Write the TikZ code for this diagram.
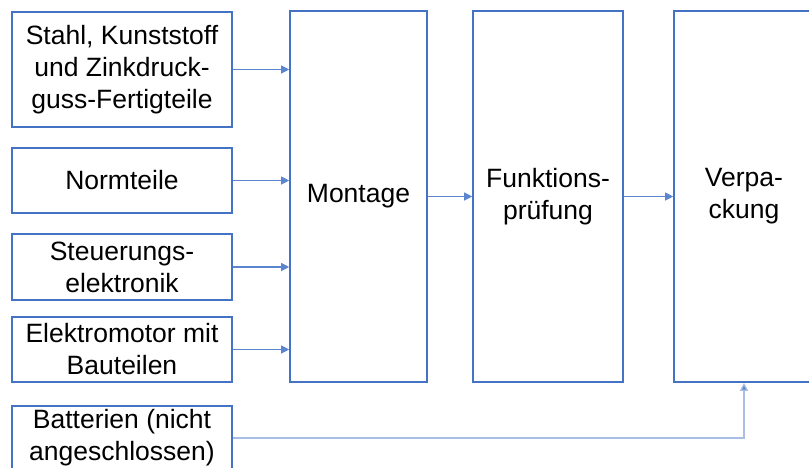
\documentclass[tikz,border=0pt]{standalone}
\usepackage{fontspec}
\setmainfont{Liberation Sans}
\usetikzlibrary{arrows.meta}
\definecolor{boxblue}{HTML}{4472C4}
\definecolor{lineblue}{HTML}{5B85CF}
\definecolor{lightline}{HTML}{A9BEE4}
\begin{document}
\begin{tikzpicture}[x=1pt,y=-1pt,
  box/.style={draw=boxblue, line width=1.6pt, fill=white, inner sep=0pt, align=center,
    font=\fontsize{26.5}{32}\selectfont, text=black},
  conn/.style={draw=lineblue, line width=1.1pt, -{Triangle[length=8pt,width=8pt]}},
  lconn/.style={draw=lightline, line width=1.3pt, -{Triangle[length=8pt,width=8pt,fill=lineblue]}}]
\useasboundingbox (0,0) rectangle (809,467);
\node[box, minimum width=220pt, minimum height=115pt] (stahl) at (122,69.5) {Stahl, Kunststoff\\und Zinkdruck-\\guss-Fertigteile};
\node[box, minimum width=220pt, minimum height=65pt] (norm) at (122,180.5) {Normteile};
\node[box, minimum width=220pt, minimum height=66pt] (steu) at (122,267) {Steuerungs-\\elektronik};
\node[box, minimum width=220pt, minimum height=65pt] (motor) at (122,349.5) {Elektromotor mit\\Bauteilen};
\node[box, minimum width=220pt, minimum height=64pt] (batt) at (122,438) {Batterien (nicht\\angeschlossen)};
\node[box, minimum width=137pt, minimum height=371pt] (mont) at (358.5,196.5) {Montage};
\node[box, minimum width=150pt, minimum height=371pt] (funk) at (548,196.5) {Funktions-\\prüfung};
\node[box, minimum width=140pt, minimum height=371pt] (verp) at (744,196.5) {Verpa-\\ckung};
\draw[conn] (stahl.east) -- (stahl.east -| mont.west);
\draw[conn] (norm.east) -- (norm.east -| mont.west);
\draw[conn] (steu.east) -- (steu.east -| mont.west);
\draw[conn] (motor.east) -- (motor.east -| mont.west);
\draw[conn] (mont.east) -- (funk.west);
\draw[conn] (funk.east) -- (verp.west);
\draw[lconn] (batt.east) -| (verp.south);
\end{tikzpicture}
\end{document}
